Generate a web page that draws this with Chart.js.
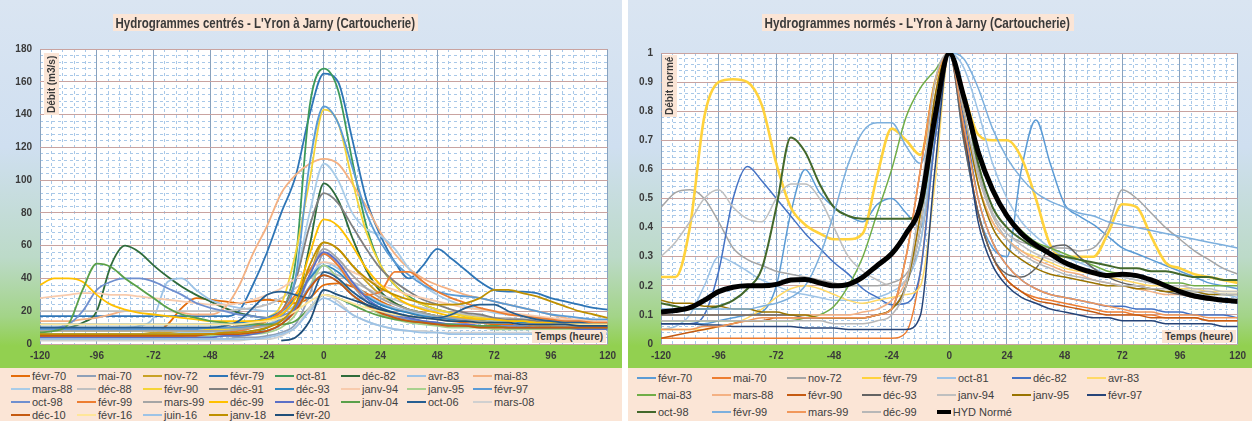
<!DOCTYPE html>
<html>
<head>
<meta charset="utf-8">
<script src="https://cdn.jsdelivr.net/npm/chart.js@4.4.1/dist/chart.umd.min.js"></script>
<style>
body { margin: 0; width: 1252px; height: 421px; background: #fff; overflow: hidden; font-family: "Liberation Sans", Arial, sans-serif; }
.panel { position: absolute; top: 0; height: 421px; overflow: hidden; }
.top { position: absolute; left: 0; top: 0; right: 0; height: 368px;
  background: linear-gradient(#dae5f2 0%, #cfdff0 40%, #bcdac8 70%, #a3d488 86%, #92d050 94%, #92d050 100%); }
canvas { position: absolute; left: 0; top: 0; }
.ttl { position: absolute; top: 14px; height: 17px; background: #fbe5d6; overflow: visible; }
.ttl span { display: inline-block; white-space: nowrap; font-weight: bold; font-size: 14px; line-height: 17px;
  color: #3a3a3a; transform-origin: 0 0; padding-left: 3px; }
.ylab { position: absolute; width: 15px; background: #fbe5d6; writing-mode: vertical-rl; transform: rotate(180deg);
  font-weight: bold; font-size: 10px; color: #3a3a3a; text-align: center; line-height: 15px; }
.xlab { position: absolute; height: 13px; background: #fbe5d6; font-weight: bold; font-size: 10px; line-height: 13px;
  color: #3a3a3a; padding: 0 3px; white-space: nowrap; }
.leg { position: absolute; left: 0; right: 0; top: 368px; bottom: 0; background: #fbe5d6; display: grid; }
.it { font-size: 11px; color: #404040; white-space: nowrap; display: flex; align-items: center; }
.it i { display: inline-block; width: 19px; margin-right: 2px; }
</style>
</head>
<body>

<div class="panel" style="left:0;width:622px">
  <div class="top"></div>
  <canvas id="cL" width="622" height="368"></canvas>
  <div class="ttl" id="tL" style="left:113px;width:305px"><span>Hydrogrammes centrés - L'Yron à Jarny (Cartoucherie)</span></div>
  <div class="ylab" style="left:44px;top:53px;height:62px">Débit (m3/s)</div>
  <div class="xlab" style="left:532px;top:330px">Temps (heure)</div>
  <div class="leg" id="lL"></div>
</div>

<div class="panel" style="left:628px;width:624px">
  <div class="top"></div>
  <canvas id="cR" width="624" height="368"></canvas>
  <div class="ttl" id="tR" style="left:134px;width:312px"><span>Hydrogrammes normés - L'Yron à Jarny (Cartoucherie)</span></div>
  <div class="ylab" style="left:34px;top:55px;height:62px">Débit normé</div>
  <div class="xlab" style="left:534px;top:330px">Temps (heure)</div>
  <div class="leg" id="lR"></div>
</div>

<script>
// time axis (hours around the peak)
const hours = [-120,-114,-108,-102,-96,-90,-84,-78,-72,-66,-60,-54,-48,-42,-36,-30,-24,-18,-12,-6,
  0,6,12,18,24,30,36,42,48,54,60,66,72,78,84,90,96,102,108,114,120];

const xTicks = [-120,-96,-72,-48,-24,0,24,48,72,96,120];

// ---- centred hydrographs, discharge in m3/s ----
const c_fevr70 = [4,4,4,4,4,4,5,5,6,12, 22,28,27,26,25,26,27,26,25,28, 36,37,35,31,26,22,19,17,15,14, 13,13,12,12,12,11,11,11,10,10,10];
const c_mai70  = [3,3,3,3,3,3,3,3,3,3, 3,3,3,3,4,4,5,7,12,30, 55,48,36,26,20,16,14,13,12,11, 11,10,10,10,10,9,9,9,9,9,9];
const c_nov72  = [6,6,6,6,6,6,6,6,7,7, 7,8,8,8,9,10,12,15,22,42, 62,58,48,38,30,25,21,19,17,16, 15,14,14,13,13,12,12,12,11,11,11];
const c_fevr79 = [17,17,17,17,17,17,17,17,17,17, 17,17,17,17,20,36,56,80,102,140, 165,160,125,88,66,50,40,48,58,52, 45,38,33,32,32,31,28,26,24,22,21];
const c_oct81  = [6,6,6,6,6,6,6,6,6,6, 6,6,6,7,7,8,10,18,50,145, 168,155,112,72,48,36,29,24,21,19, 17,16,15,14,14,13,13,12,12,12,12];
const c_dec82  = [8,9,10,13,20,48,60,56,48,41, 35,30,26,22,19,17,16,16,22,60, 98,88,65,45,32,25,21,19,17,16, 15,14,14,13,13,12,12,12,12,11,11];
const c_avr83  = [10,10,10,10,10,10,10,11,16,38, 40,33,27,24,22,21,20,20,24,40, 50,46,38,30,25,22,20,18,17,16, 15,15,14,14,13,13,13,12,12,12,12];
const c_mai83  = [14,14,14,15,16,18,20,20,20,20, 19,18,18,22,35,55,72,92,103,110, 113,110,98,84,68,55,46,40,36,33, 30,28,26,24,22,20,18,16,14,13,12];
const c_mars88 = [6,6,6,6,6,6,6,6,6,6, 7,7,7,8,9,10,12,18,40,80, 110,100,80,70,66,58,46,36,30,26, 23,21,19,18,17,16,15,14,13,13,12];
const c_dec88  = [20,20,20,20,20,20,20,20,20,20, 20,20,20,20,21,22,24,28,34,40, 44,42,38,34,30,27,24,22,20,19, 18,17,16,16,15,15,14,14,14,13,13];
const c_fevr90 = [8,8,8,8,8,8,8,8,8,8, 8,8,9,9,10,11,16,24,55,100, 143,135,100,68,48,36,28,24,21,19, 17,16,15,14,13,13,12,12,12,11,11];
const c_dec91  = [10,10,10,10,10,10,10,10,10,10, 10,10,10,10,11,12,14,20,38,72, 92,86,72,58,46,38,32,27,24,21, 19,18,16,15,15,14,14,13,13,13,12];
const c_dec93  = [12,12,12,12,12,12,12,12,12,12, 12,12,12,12,13,14,16,20,28,40, 48,44,36,29,24,21,19,17,16,15, 14,14,13,13,13,12,12,12,12,11,11];
const c_janv94 = [28,29,30,31,31,30,30,29,28,27, 26,25,24,24,25,27,30,34,40,46, 50,48,44,40,36,33,30,28,26,24, 22,21,20,19,18,17,16,15,15,14,14];
const c_janv95 = [5,5,5,5,5,5,5,5,5,5, 5,5,5,5,5,6,7,10,18,35, 48,40,30,23,18,15,13,12,11,10, 10,10,9,9,9,9,9,9,9,9,9];
const c_fevr97 = [9,9,9,9,9,9,9,9,9,9, 9,9,10,10,10,11,12,16,40,110, 145,135,108,80,62,50,42,36,32,30, 29,28,26,24,22,20,18,17,16,15,15];
const c_oct98  = [10,10,12,20,33,38,40,40,38,34, 30,25,22,20,18,17,16,17,22,35, 42,38,30,24,20,17,15,14,13,12, 12,11,11,11,11,10,10,10,10,10,10];
const c_fevr99 = [5,5,5,5,5,5,5,5,5,5, 5,6,6,7,8,10,14,20,30,45, 55,48,36,30,32,44,44,38,32,28, 25,22,20,18,17,16,15,14,14,13,13];
const c_mars99 = [8,8,8,8,8,8,8,8,8,8, 8,8,8,8,9,10,11,14,22,42, 58,52,42,34,28,24,21,19,17,16, 15,14,13,13,12,12,12,11,11,11,11];
const c_dec99  = [36,40,40,38,30,24,21,19,18,17, 16,15,14,14,14,14,15,18,28,55, 76,72,60,46,36,29,24,21,19,17, 16,15,15,14,14,13,13,13,12,12,12];
const c_dec01  = [4,4,4,4,4,4,4,4,4,4, 4,4,4,5,5,6,8,12,22,42, 56,50,38,28,22,18,16,14,13,12, 12,11,11,10,10,10,10,10,9,9,9];
const c_janv04 = [7,8,12,33,49,47,40,34,28,22, 18,16,14,13,12,12,12,12,14,22, 30,28,24,20,17,15,14,13,12,12, 11,11,11,10,10,10,10,10,10,10,10];
const c_oct06  = [10,10,10,10,10,10,10,10,10,10, 10,10,10,11,14,22,30,32,30,28, 44,40,32,26,22,19,17,16,16,18, 22,24,24,20,17,15,14,13,13,12,12];
const c_mars08 = [2,2,2,2,2,2,2,2,2,2, 2,2,2,2,2,3,3,5,10,22, 30,26,18,14,11,9,8,8,7,7, 7,7,7,7,7,7,7,7,7,7,7];
const c_dec10  = [5,5,5,5,5,5,5,5,5,5, 5,5,6,6,6,7,8,12,20,34, 42,38,30,24,19,16,14,13,12,11, 11,10,10,10,10,10,10,10,10,10,10];
const c_fevr16 = [12,12,12,12,12,12,12,12,12,12, 12,12,12,12,12,13,14,16,20,26, 30,28,25,22,20,18,17,16,15,14, 14,13,13,13,12,12,12,12,12,12,12];
const c_juin16 = [3,3,3,3,3,3,3,3,3,3, 3,3,3,3,3,3,4,6,10,20, 28,24,18,14,11,9,8,7,7,6, 6,6,6,6,6,6,6,6,6,6,6];
const c_janv18 = [6,6,6,6,6,6,6,6,6,6, 6,6,6,7,7,8,10,14,24,48, 62,58,48,40,34,30,27,25,24,24, 25,28,33,33,31,29,26,23,20,18,16];
const c_fevr20 = [null,null,null,null,null,null,null,null,null,null, null,null,null,null,null,null,null,2,4,14,
  33,30,27,24,21,19,17,16,15,14, 14,13,13,13,12,12,12,12,11,11,11];

// ---- normalised hydrographs (Q / Qmax) ----
const n_fevr70 = [0.07,0.07,0.07,0.07,0.08,0.09,0.1,0.11,0.2,0.45, 0.6,0.52,0.47,0.44,0.42,0.48,0.5,0.45,0.4,0.7, 1,0.7,0.45,0.33,0.3,0.6,0.77,0.62,0.48,0.44, 0.41,0.37,0.33,0.31,0.29,0.27,0.25,0.23,0.21,0.2,0.19];
const n_mai70  = [0.02,0.02,0.02,0.02,0.02,0.02,0.02,0.02,0.02,0.02, 0.02,0.02,0.02,0.02,0.02,0.02,0.02,0.04,0.25,0.7, 1,0.72,0.45,0.3,0.22,0.18,0.16,0.15,0.14,0.13, 0.12,0.11,0.11,0.1,0.1,0.09,0.09,0.09,0.08,0.08,0.08];
const n_nov72  = [0.47,0.52,0.53,0.5,0.42,0.33,0.29,0.27,0.25,0.24, 0.23,0.22,0.21,0.2,0.2,0.2,0.21,0.24,0.35,0.7, 1,0.85,0.6,0.45,0.38,0.35,0.34,0.33,0.33,0.32, 0.33,0.4,0.53,0.5,0.45,0.4,0.36,0.32,0.29,0.26,0.24];
const n_fevr79 = [0.23,0.23,0.4,0.78,0.9,0.91,0.9,0.82,0.62,0.47, 0.41,0.38,0.36,0.36,0.38,0.58,0.74,0.7,0.65,0.9, 1,0.86,0.72,0.7,0.7,0.64,0.5,0.34,0.3,0.3, 0.3,0.38,0.48,0.47,0.37,0.28,0.26,0.24,0.23,0.22,0.21];
const n_oct81  = [0.05,0.06,0.1,0.2,0.3,0.28,0.25,0.22,0.2,0.18, 0.17,0.16,0.15,0.15,0.15,0.16,0.18,0.22,0.35,0.75, 1,0.95,0.8,0.62,0.5,0.42,0.37,0.33,0.3,0.28, 0.26,0.24,0.23,0.22,0.21,0.2,0.19,0.18,0.17,0.17,0.16];
const n_dec82  = [0.07,0.07,0.07,0.1,0.25,0.5,0.61,0.56,0.5,0.44, 0.38,0.33,0.28,0.24,0.19,0.16,0.135,0.14,0.25,0.7, 1,0.78,0.5,0.35,0.27,0.22,0.19,0.17,0.16,0.15, 0.14,0.13,0.13,0.12,0.12,0.11,0.11,0.1,0.1,0.1,0.09];
const n_avr83  = [0.05,0.05,0.05,0.05,0.06,0.07,0.09,0.12,0.16,0.19, 0.2,0.19,0.17,0.15,0.14,0.15,0.16,0.17,0.2,0.55, 1,0.8,0.55,0.42,0.36,0.32,0.3,0.28,0.26,0.25, 0.24,0.23,0.22,0.21,0.2,0.2,0.19,0.19,0.18,0.18,0.18];
const n_mai83  = [0.08,0.08,0.08,0.08,0.08,0.08,0.08,0.08,0.08,0.08, 0.09,0.1,0.13,0.2,0.3,0.45,0.6,0.78,0.88,0.94, 1,0.86,0.66,0.52,0.44,0.39,0.35,0.33,0.31,0.29, 0.27,0.25,0.24,0.23,0.22,0.21,0.21,0.2,0.2,0.2,0.2];
const n_mars88 = [0.1,0.1,0.1,0.1,0.1,0.1,0.1,0.1,0.1,0.1, 0.1,0.1,0.1,0.1,0.11,0.12,0.15,0.22,0.45,0.85, 1,0.8,0.55,0.42,0.36,0.32,0.29,0.27,0.25,0.24, 0.22,0.21,0.2,0.19,0.18,0.17,0.17,0.16,0.16,0.15,0.15];
const n_fevr90 = [0.02,0.03,0.04,0.05,0.06,0.07,0.08,0.08,0.09,0.09, 0.09,0.09,0.09,0.09,0.09,0.1,0.12,0.3,0.6,0.9, 1,0.72,0.45,0.3,0.22,0.18,0.15,0.14,0.13,0.12, 0.11,0.1,0.1,0.1,0.09,0.09,0.09,0.09,0.08,0.08,0.08];
const n_dec93  = [0.1,0.1,0.1,0.1,0.1,0.1,0.1,0.1,0.1,0.1, 0.09,0.09,0.09,0.09,0.09,0.1,0.12,0.2,0.4,0.8, 1,0.7,0.45,0.3,0.24,0.23,0.26,0.33,0.34,0.3, 0.26,0.23,0.21,0.2,0.19,0.18,0.17,0.16,0.15,0.15,0.14];
const n_janv94 = [0.3,0.35,0.42,0.5,0.53,0.47,0.43,0.42,0.5,0.55, 0.55,0.5,0.4,0.3,0.25,0.22,0.2,0.22,0.4,0.8, 1,0.8,0.58,0.45,0.38,0.34,0.31,0.29,0.27,0.26, 0.25,0.24,0.23,0.22,0.21,0.2,0.2,0.19,0.19,0.18,0.18];
const n_janv95 = [0.15,0.14,0.14,0.13,0.13,0.12,0.12,0.11,0.11,0.1, 0.1,0.09,0.09,0.09,0.09,0.1,0.12,0.2,0.45,0.85, 1,0.8,0.55,0.4,0.33,0.29,0.26,0.24,0.23,0.22, 0.21,0.2,0.2,0.19,0.19,0.18,0.18,0.18,0.17,0.17,0.17];
const n_fevr97 = [0.07,0.07,0.07,0.065,0.065,0.06,0.06,0.06,0.06,0.06, 0.055,0.055,0.055,0.05,0.05,0.05,0.05,0.05,0.1,0.6, 1,0.75,0.42,0.27,0.2,0.16,0.14,0.12,0.11,0.1, 0.09,0.09,0.08,0.08,0.08,0.07,0.07,0.07,0.07,0.06,0.06];
const n_oct98  = [0.14,0.13,0.12,0.12,0.13,0.15,0.19,0.26,0.47,0.71, 0.66,0.55,0.47,0.44,0.43,0.43,0.43,0.43,0.46,0.75, 1,0.85,0.62,0.47,0.4,0.36,0.33,0.31,0.3,0.29, 0.28,0.27,0.26,0.26,0.25,0.25,0.24,0.23,0.23,0.22,0.22];
const n_fevr99 = [0.12,0.12,0.12,0.12,0.12,0.12,0.12,0.13,0.14,0.16, 0.2,0.3,0.45,0.62,0.73,0.76,0.76,0.68,0.62,0.8, 1,0.98,0.88,0.74,0.64,0.57,0.52,0.49,0.47,0.45, 0.44,0.42,0.41,0.4,0.39,0.38,0.37,0.36,0.35,0.34,0.33];
const n_mars99 = [0.05,0.05,0.05,0.06,0.06,0.07,0.08,0.09,0.09,0.09, 0.09,0.09,0.09,0.09,0.09,0.1,0.12,0.3,0.6,0.9, 1,0.75,0.5,0.35,0.27,0.22,0.19,0.17,0.16,0.15, 0.14,0.13,0.12,0.11,0.11,0.1,0.1,0.1,0.09,0.09,0.09];
const n_dec99  = [0.08,0.08,0.08,0.08,0.08,0.08,0.08,0.08,0.08,0.08, 0.08,0.08,0.07,0.07,0.07,0.08,0.1,0.2,0.5,0.9, 1,0.8,0.58,0.44,0.36,0.31,0.28,0.26,0.24,0.23, 0.22,0.21,0.2,0.2,0.19,0.19,0.18,0.18,0.18,0.17,0.17];
const n_hyd    = [0.11,0.115,0.125,0.15,0.18,0.195,0.2,0.2,0.205,0.22, 0.222,0.21,0.2,0.205,0.23,0.27,0.31,0.38,0.48,0.78, 1,0.85,0.66,0.53,0.44,0.38,0.34,0.31,0.28,0.26, 0.245,0.235,0.24,0.235,0.22,0.2,0.18,0.165,0.157,0.15,0.147];

// name, values, colour, line width
const leftSeries = [
  ['févr-70', c_fevr70, '#e46c0a'], ['mai-70', c_mai70, '#8ea0b8'], ['nov-72', c_nov72, '#c9a227'],
  ['févr-79', c_fevr79, '#2e75b6'], ['oct-81', c_oct81, '#3d9a5b'], ['déc-82', c_dec82, '#2f6b3a'],
  ['avr-83', c_avr83, '#9dc3e6'], ['mai-83', c_mai83, '#f4b183'], ['mars-88', c_mars88, '#a9cce8'],
  ['déc-88', c_dec88, '#c0c0c0'], ['févr-90', c_fevr90, '#f5d437'], ['déc-91', c_dec91, '#7f7f7f'],
  ['déc-93', c_dec93, '#2e86c1'], ['janv-94', c_janv94, '#f8cbad'], ['janv-95', c_janv95, '#a9d18e'],
  ['févr-97', c_fevr97, '#5b9bd5'], ['oct-98', c_oct98, '#6f8fcf'], ['févr-99', c_fevr99, '#ed7d31'],
  ['mars-99', c_mars99, '#a5a5a5'], ['déc-99', c_dec99, '#ffc000'], ['déc-01', c_dec01, '#5b6fc6'],
  ['janv-04', c_janv04, '#5aa04a'], ['oct-06', c_oct06, '#255e91'], ['mars-08', c_mars08, '#d0d0d0'],
  ['déc-10', c_dec10, '#c55a11'], ['févr-16', c_fevr16, '#ffe699'], ['juin-16', c_juin16, '#9dc3e6'],
  ['janv-18', c_janv18, '#bf9000'], ['févr-20', c_fevr20, '#1f4e79']
];

const rightSeries = [
  ['févr-70', n_fevr70, '#5b9bd5'], ['mai-70', n_mai70, '#ed7d31'], ['nov-72', n_nov72, '#a5a5a5'],
  ['févr-79', n_fevr79, '#ffd23c', 2.6], ['oct-81', n_oct81, '#9dc3e6'], ['déc-82', n_dec82, '#4472c4'],
  ['avr-83', n_avr83, '#ffd966'], ['mai-83', n_mai83, '#70ad47'], ['mars-88', n_mars88, '#f4b183'],
  ['févr-90', n_fevr90, '#c55a11'], ['déc-93', n_dec93, '#636363'], ['janv-94', n_janv94, '#bfbfbf'],
  ['janv-95', n_janv95, '#997300'], ['févr-97', n_fevr97, '#264478'], ['oct-98', n_oct98, '#43682b', 2],
  ['févr-99', n_fevr99, '#7cafdd'], ['mars-99', n_mars99, '#f1975a'], ['déc-99', n_dec99, '#b7b7b7'],
  ['HYD Normé', n_hyd, '#000000', 5]
];

const tickFont = { family: 'Liberation Sans', weight: 'bold', size: 10 };

// white plot area like the Excel chart
const plotBg = {
  id: 'plotBg',
  beforeDraw(chart) {
    const a = chart.chartArea, ctx = chart.ctx;
    ctx.save();
    ctx.fillStyle = '#ffffff';
    ctx.fillRect(a.left, a.top, a.right - a.left, a.bottom - a.top);
    ctx.restore();
  }
};

function hydroChart(id, series, yMax, yStep, lw) {
  return new Chart(document.getElementById(id), {
    type: 'line',
    data: {
      datasets: series.map((s, i) => ({
        label: s[0],
        data: s[1].map((v, j) => ({ x: hours[j], y: v })),
        borderColor: s[2],
        borderWidth: s[3] || lw,
        pointRadius: 0,
        cubicInterpolationMode: 'monotone',
        fill: false,
        order: -i
      }))
    },
    options: {
      responsive: false,
      animation: false,
      devicePixelRatio: 1,
      layout: { padding: { left: 10, right: 10, top: 50, bottom: 4 } },
      plugins: { legend: { display: false }, tooltip: { enabled: false } },
      scales: {
        xm: { type: 'linear', min: -120, max: 120, position: 'bottom',
          ticks: { display: false, stepSize: 4.8 },
          grid: { color: '#a8c8e8', drawTicks: false, z: -1 },
          border: { display: false, dash: [3, 3] } },
        ym: { type: 'linear', min: 0, max: yMax, position: 'left',
          ticks: { display: false, stepSize: yStep / 5 },
          grid: { color: '#a8c8e8', drawTicks: false, z: -1 },
          border: { display: false, dash: [3, 3] } },
        x: { type: 'linear', min: -120, max: 120, position: 'bottom',
          afterBuildTicks: sc => { sc.ticks = xTicks.map(v => ({ value: v })); },
          ticks: { font: tickFont, color: '#3a3a3a', padding: 6, maxRotation: 0, autoSkip: false },
          grid: { color: '#8aa2bd', drawTicks: false },
          border: { display: false } },
        y: { type: 'linear', min: 0, max: yMax, position: 'left',
          ticks: { stepSize: yStep, font: tickFont, color: '#3a3a3a', padding: 8,
            callback: v => String(+v.toFixed(2)) },
          grid: { color: '#c9a3a0', drawTicks: false },
          border: { display: false } }
      }
    },
    plugins: [plotBg]
  });
}

// nudge the layout padding so the plot box lands where it is in the picture
function placeArea(chart, box) {
  for (let k = 0; k < 3; k++) {
    const a = chart.chartArea, p = chart.options.layout.padding;
    p.left = Math.max(0, p.left + box.left - a.left);
    p.top = Math.max(0, p.top + box.top - a.top);
    p.right = Math.max(0, p.right + a.right - box.right);
    p.bottom = Math.max(0, p.bottom + a.bottom - box.bottom);
    chart.update();
  }
}

function buildLegend(id, series, cols, colW, rowH, padL, padT) {
  const el = document.getElementById(id);
  el.style.gridTemplateColumns = `repeat(${cols}, ${colW}px)`;
  el.style.gridAutoRows = rowH + 'px';
  el.style.padding = `${padT}px 0 0 ${padL}px`;
  series.forEach(s => {
    const it = document.createElement('div');
    it.className = 'it';
    const w = s[3] || 2;
    it.innerHTML = `<i style="background:${s[2]};height:${w >= 4 ? 4 : 2}px;${w >= 4 ? 'width:24px' : ''}"></i>${s[0]}`;
    el.appendChild(it);
  });
}

function squeeze(id, w) {
  const s = document.getElementById(id).firstElementChild;
  const k = Math.min(1, w / s.offsetWidth);
  s.style.transform = `scaleX(${k})`;
}

const chartL = hydroChart('cL', leftSeries, 180, 20, 1.8);
const chartR = hydroChart('cR', rightSeries, 1, 0.1, 1.5);
placeArea(chartL, { left: 40, right: 612, top: 49, bottom: 346 });
placeArea(chartR, { left: 33, right: 613, top: 53, bottom: 346 });

buildLegend('lL', leftSeries, 8, 66, 13, 11, 1);
buildLegend('lR', rightSeries, 7, 75, 17, 9, 1);
squeeze('tL', 302);
squeeze('tR', 308);
</script>
</body>
</html>
